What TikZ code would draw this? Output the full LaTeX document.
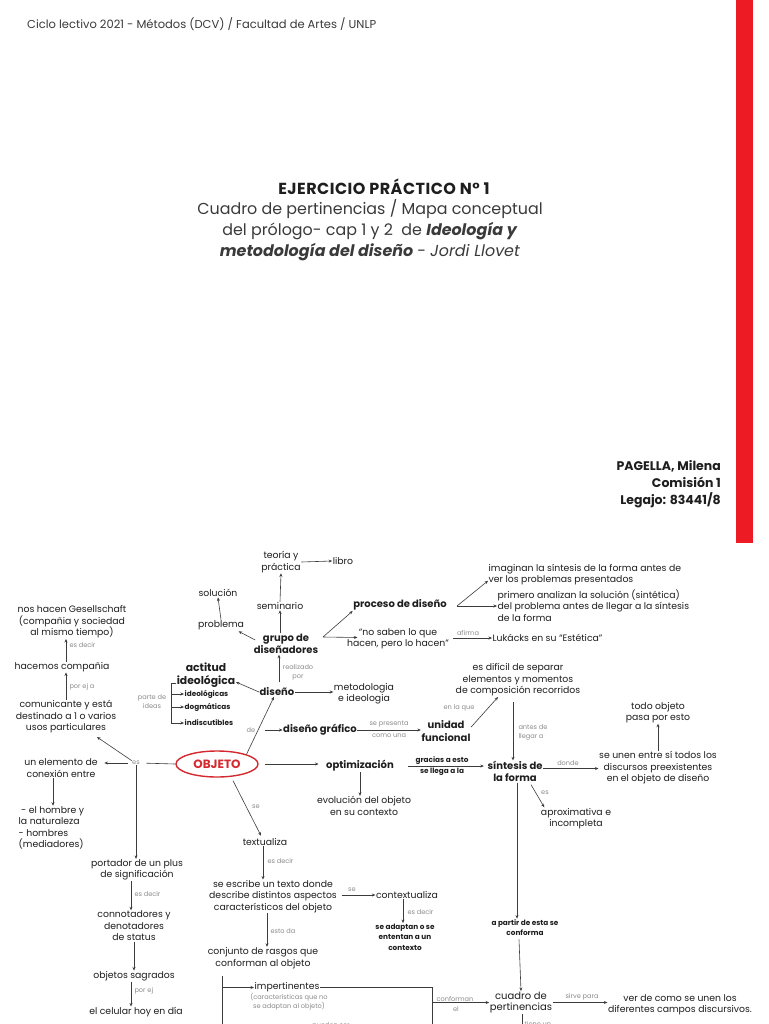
\documentclass[tikz,border=0pt]{standalone}
\usepackage{fontspec}
\setmainfont{Poppins}
\usetikzlibrary{arrows.meta,shapes.geometric,calc}
\definecolor{barred}{HTML}{ED1C24}
\definecolor{ink}{HTML}{1E1E1E}
\definecolor{hdr}{HTML}{3A3A3A}
\definecolor{lblc}{HTML}{8C8C8C}
\definecolor{objred}{HTML}{D42A2F}
\definecolor{wire}{HTML}{3C3C3C}
\begin{document}
\begin{tikzpicture}[x=1pt,y=-1pt,
 txt/.style={font=\fontsize{9.3}{11.5}\selectfont, align=center, inner sep=0.5pt, text=ink},
 bld/.style={font=\bfseries\fontsize{10}{12.5}\selectfont, align=center, inner sep=0.5pt, text=ink},
 sbld/.style={font=\bfseries\fontsize{7.3}{10.5}\selectfont, align=center, inner sep=0.5pt, text=ink},
 lbl/.style={font=\fontsize{6.6}{9}\selectfont, align=center, inner sep=0.3pt, text=lblc},
 arr/.style={draw=wire, line width=0.6pt, -{Stealth[length=3.5pt,width=3pt]}},
 ln/.style={draw=wire, line width=0.6pt},
]
\useasboundingbox (0,0) rectangle (768,1024);
\fill[white] (0,0) rectangle (768,1024);
\fill[barred] (736,0) rectangle (753,542.5);

% header and title
\node[anchor=west, font=\fontsize{11.5}{13}\selectfont, text=hdr, inner sep=0pt] (hdr) at (27,24) {Ciclo lectivo 2021 - Métodos (DCV) / Facultad de Artes / UNLP};
\node[font=\bfseries\fontsize{16}{18}\selectfont\addfontfeatures{LetterSpace=3}, text=ink, inner sep=0pt] (t1) at (384,187) {EJERCICIO PRÁCTICO N° 1};
\node[align=center, font=\fontsize{15.9}{21}\selectfont, text=hdr, inner sep=0pt] (t2) at (370,230) {Cuadro de pertinencias / Mapa conceptual\\del prólogo- cap 1 y 2 \ de \textbf{\textit{Ideología y}}\\\textbf{\textit{metodología del diseño}} - \textit{Jordi Llovet}};
\node[anchor=east, align=right, font=\bfseries\fontsize{12.5}{17}\selectfont, text=ink, inner sep=0pt] (pag) at (721,484) {PAGELLA, Milena\\Comisión 1\\Legajo: 83441/8};

% top cluster
\node[txt] (teo) at (281,562) {teoría y\\práctica};
\node[txt] (libro) at (343,561) {libro};
\node[txt] (sem) at (280,606) {seminario};
\node[txt] (sol) at (218,593) {solución};
\node[txt] (prob) at (221,625) {problema};
\node[bld] (grupo) at (286,644) {grupo de\\diseñadores};
\node[bld] (proc) at (400,605) {proceso de diseño};
\node[txt] (nosab) at (398,639) {“no saben lo que\\hacen, pero lo hacen”};
\node[txt, anchor=west] (luk) at (492,638) {Lukácks en su “Estética”};
\node[lbl] (afirma) at (468,633) {afirma};
\node[txt, anchor=west, align=left] (imag) at (488,574.5) {imaginan la síntesis de la forma antes de\\ver los problemas presentados};
\node[txt, anchor=west, align=left] (prim) at (497,605.5) {primero analizan la solución (sintética)\\del problema antes de llegar a la síntesis\\de la forma};

\draw[arr] (teo.east) -- (libro.west);
\draw[arr] (sem.north) -- (teo.south);
\draw[arr] (sem.south |- grupo.north) -- (sem.south);
\draw[arr] (prob.north) -- (sol.south);
\draw[arr] ($(grupo.west)+(2,-4)$) -- ($(prob.south east)+(-6,1)$);
\coordinate (gv) at (323,637);
\draw[arr] (gv) -- (proc.south west);
\draw[arr] (gv) -- ($(nosab.west)+(11,-1.5)$);
\draw[arr] ($(nosab.east)+(3,-1)$) -- (luk.west);
\coordinate (pv) at (457,606);
\draw[arr] (pv) -- ($(imag.south west)+(0,-5)$);
\draw[arr] (pv) -- (pv -| prim.west);

% left column
\node[txt] (nos) at (72,622) {nos hacen Gesellschaft\\(compañia y sociedad\\al mismo tiempo)};
\node[lbl, anchor=west] (ed1) at (69,645) {es decir};
\node[txt] (hac) at (62,667) {hacemos compañia};
\node[lbl, anchor=west] (pe1) at (69,687) {por ej a};
\node[txt] (com) at (66,717) {comunicante y está\\destinado a 1 o varios\\usos particulares};
\node[txt] (elem) at (61,768) {un elemento de\\conexión entre};
\node[lbl] (es1) at (136,763) {es};
\node[txt, anchor=west, align=left] (hom) at (18,828) {\ - el hombre y\\la naturaleza\\- hombres\\(mediadores)};
\node[txt] (port) at (137,870) {portador de un plus\\de significación};
\node[lbl, anchor=west] (ed2) at (134,894) {es decir};
\node[txt] (conn) at (134,926) {connotadores y\\denotadores\\de status};
\node[txt] (objsag) at (134,976) {objetos sagrados};
\node[lbl, anchor=west] (pe2) at (134,991) {por ej};
\node[txt] (cel) at (136,1012) {el celular hoy en día};

\draw[arr] (com.north) -- (com.north |- hac.south);
\draw[arr] (hac.north -| com.north) -- (com.north |- nos.south);
\node[draw=objred, line width=1.4pt, ellipse, minimum width=82pt, minimum height=26pt, inner sep=0pt, text=objred, font=\bfseries\fontsize{12}{14}\selectfont] (obj) at (217,764) {OBJETO};
\draw[ln, shorten >=6pt] (obj.west) -- (es1.east);
\draw[arr, shorten <=4pt, shorten >=6pt] (es1.west) -- (elem.east |- es1);
\draw[arr] (es1.north west) -- ($(com.south)+(31,3)$);
\draw[arr] (es1.south) -- (es1.south |- port.north);
\coordinate (v0) at ($(elem.south)+(-8,0)$);
\draw[arr] (v0) -- (v0 |- hom.north);
\coordinate (v7) at ($(port.south)+(-6,0)$);
\draw[arr] (v7) -- (v7 |- conn.north);
\draw[arr] (conn.south -| objsag.north) -- (objsag.north);
\coordinate (v8) at ($(objsag.south)+(-3,0)$);
\draw[arr] (v8) -- (v8 |- cel.north);

% actitud ideologica
\node[bld, font=\bfseries\fontsize{10.8}{13.5}\selectfont] (act) at (206,675) {actitud\\ideológica};
\node[sbld, anchor=west] (ideo) at (184,694) {ideológicas};
\node[sbld, anchor=west] (dogm) at (184,707) {dogmáticas};
\node[sbld, anchor=west] (indis) at (184,723) {indiscutibles};
\node[lbl] (parte) at (152,702) {parte de\\ideas};
\coordinate (brT) at (171,683);
\draw[ln] ($(brT)+(5,0)$) -- (brT) -- (brT |- indis);
\draw[arr] (brT |- ideo) -- (ideo.west);
\draw[arr] (brT |- dogm) -- (dogm.west);
\draw[arr] (brT |- indis) -- (indis.west);

% diseno
\node[bld] (dis) at (277,692) {diseño};
\node[lbl] (realiz) at (298,672.5) {realizado\\por};
\node[txt] (met) at (364,693.5) {metodologia\\e ideologia};
\draw[arr] (dis.west) -- ([yshift=-7pt]act.east);
\coordinate (v9) at ($(dis.north)+(2,0)$);
\draw[arr, shorten <=5pt] (v9) -- (v9 |- grupo.south);
\draw[arr] (dis.east) -- (dis.east -| met.west);
\draw[arr] (obj.north east) -- ([xshift=-3pt]dis.south);
\node[lbl] (de) at (251,730) {de};
\node[bld] (dgraf) at (320,730) {diseño gráfico};
\draw[arr, shorten <=9pt] (de.east) -- (dgraf.west);
\node[bld] (unid) at (446,731) {unidad\\funcional};
\draw[arr] (dgraf.east) -- (dgraf.east -| unid.west);
\node[lbl] (sepres) at (389,724) {se presenta};
\node[lbl] (comouna) at (389,736) {como una};
\node[txt] (esdif) at (518,680) {es difícil de separar\\elementos y momentos\\de composición recorridos};
\draw[arr] ([yshift=4pt]unid.east) -- ([xshift=-20pt]esdif.south);
\node[lbl] (enlaque) at (459,708) {en la que};
\node[bld] (sint) at (515,771.5) {síntesis de\\la forma};
\coordinate (v1) at ($(sint.north)+(-2,0)$);
\draw[arr, shorten <=5pt] (v1 |- esdif.south) -- (v1);
\node[lbl, anchor=west, align=left] (antes) at (518,732) {antes de\\llegar a};

% optimizacion
\node[bld] (opt) at (360,766) {optimización};
\draw[arr, shorten <=6pt, shorten >=7pt] (obj.east) -- (obj.east -| opt.west);
\draw[arr, shorten <=14pt, shorten >=3pt] (opt.east) -- (opt.east -| sint.west);
\node[sbld] (gracias) at (442,760.5) {gracias a esto};
\node[sbld] (sellega) at (442,772) {se llega a la};
\node[txt] (evol) at (364,806) {evolución del objeto\\en su contexto};
\draw[arr] (opt.south) -- (opt.south |- evol.north);
\node[txt] (seunen) at (658,768) {se unen entre sí todos los\\discursos preexistentes\\en el objeto de diseño};
\node[lbl] (donde) at (568,763) {donde};
\draw[arr] ([yshift=3pt]sint.east) -- ([yshift=3pt]sint.east -| seunen.west);
\node[txt] (todo) at (658,712.5) {todo objeto\\pasa por esto};
\draw[arr] (seunen.north) -- (todo.south);
\node[txt] (aprox) at (576,818.5) {aproximativa e\\incompleta};
\node[lbl] (es3) at (545,793) {es};
\draw[arr] ($(sint.south)+(16,2)$) -- ($(aprox.north west)+(4,0)$);
\node[sbld] (apartir) at (525,927.5) {a partir de esta se\\conforma};
\coordinate (v3) at ($(sint.south)+(2,0)$);
\draw[arr] (v3) -- (v3 |- apartir.north);
\node[txt, font=\fontsize{10}{11.5}\selectfont] (cuadro) at (521,1002.5) {cuadro de\\pertinencias};
\draw[arr] ($(apartir.south)+(-6,3)$) -- (cuadro.north);
\node[lbl] (sirve) at (582,997) {sirve para};
\node[txt] (ver) at (680,1005) {ver de como se unen los\\diferentes campos discursivos.};
\draw[arr] (cuadro.east) -- (cuadro.east -| ver.west);
\node[lbl, anchor=west] (tiene) at (524,1024) {tiene un};
\coordinate (cq) at ($(cuadro.south)+(1,0)$);
\coordinate (cqe) at ($(cq)+(0,15)$);
\draw[ln] (cq) -- (cqe);

% textualiza branch
\node[txt] (textu) at (265,842) {textualiza};
\node[lbl] (se1) at (256,807) {se};
\draw[arr] ($(obj.south)+(16,3)$) -- ($(textu.north)+(-4,-2)$);
\node[lbl, anchor=west] (ed3) at (267,861) {es decir};
\node[txt] (seesc) at (273,896.5) {se escribe un texto donde\\describe distintos aspectos\\característicos del objeto};
\coordinate (v4) at ($(textu.south)+(-2,0)$);
\draw[arr] (v4) -- (v4 |- seesc.north);
\node[lbl] (se2) at (352,890) {se};
\node[txt] (contx) at (407,895) {contextualiza};
\draw[arr, shorten <=4pt] (seesc.east |- contx) -- (contx.west);
\node[lbl, anchor=west] (ed4) at (407,912) {es decir};
\node[sbld] (seadap) at (405,937) {se adaptan o se\\ententan a un\\contexto};
\coordinate (v5) at ($(contx.south)+(-4,0)$);
\draw[arr] (v5) -- (v5 |- seadap.north);
\node[lbl, anchor=west] (estoda) at (270,931) {esto da};
\node[txt] (conj) at (263,958) {conjunto de rasgos que\\conforman al objeto};
\coordinate (v6) at ($(seesc.south)+(-6,0)$);
\draw[arr] (v6) -- (v6 |- conj.north);
\coordinate (brB) at (222,976);
\coordinate (brE) at (222,1030);
\draw[ln] (brB) -- (brE);
\node[txt, anchor=west] (imp) at (254,987.5) {impertinentes};
\draw[arr] (brB |- imp) -- (imp.west);
\node[lbl] (carac) at (289,1002) {(características que no\\se adaptan al objeto)};
\coordinate (cj) at (432,987.5);
\coordinate (cjE) at (432,1030);
\draw[ln] (imp.east) -- (cj) -- (cjE);
\draw[arr] (cj |- cuadro) -- (cuadro.west);
\node[lbl] (conforman) at (455,998.5) {conforman};
\node[lbl] (el) at (456,1009) {el};
\node[lbl] (pueden) at (331,1026) {pueden ser};
\node[lbl] (textuales) at (385,1027) {textuales};
\end{tikzpicture}
\end{document}
